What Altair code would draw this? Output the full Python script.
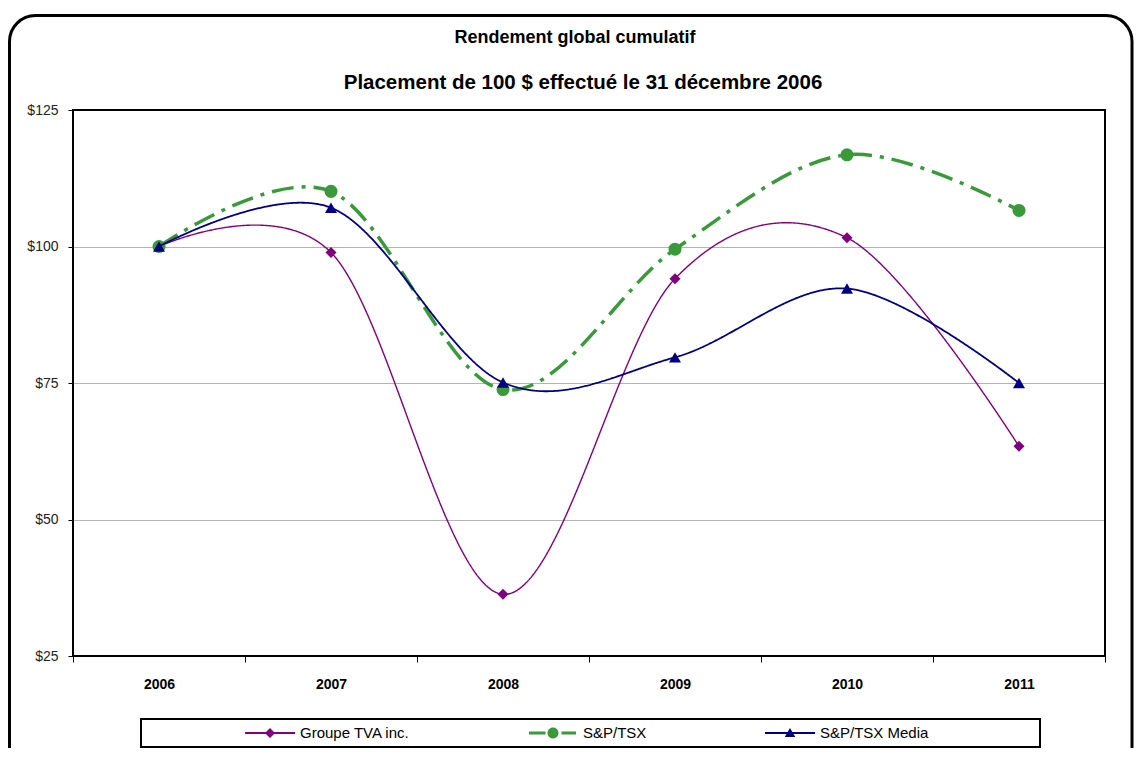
import altair as alt
import pandas as pd

years = ["2006", "2007", "2008", "2009", "2010", "2011"]
series_names = ["Groupe TVA inc.", "S&P/TSX", "S&P/TSX Media"]
tva = [100, 98.9, 36.3, 94.1, 101.6, 63.4]
tsx = [100, 110.1, 73.8, 99.5, 116.8, 106.6]
media = [100, 107.1, 75.1, 79.7, 92.3, 75.0]
y_ticks = [25, 50, 75, 100, 125]
title_text = "Rendement global cumulatif"
subtitle_text = "Placement de 100 $ effectué le 31 décembre 2006"

colors = ["#800080", "#3a9a3a", "#000080"]
values = [tva, tsx, media]

FONT = "Liberation Sans"
W, H = 1032, 546

frames = []
for name, vals in zip(series_names, values):
    frames.append(pd.DataFrame({"year": years, "value": vals, "series": name, "hidden": 0}))
df_all = pd.concat(frames, ignore_index=True)
one = pd.DataFrame({"a": [0]})

xenc = alt.X(
    "year:N",
    sort=years,
    bandPosition=0.5,
    scale=alt.Scale(type="band", domain=years, paddingInner=0, paddingOuter=0),
    axis=alt.Axis(
        tickBand="extent", grid=False, domain=False, tickColor="black", tickSize=6,
        labelFont=FONT, labelFontSize=14, labelFontWeight="bold", labelColor="black",
        labelPadding=15, labelAngle=0,
    ),
    title=None,
)
yscale = alt.Scale(domain=[25, 125], nice=False, zero=False)
yenc = alt.Y(
    "value:Q",
    scale=yscale,
    axis=alt.Axis(
        values=y_ticks, format="$d", grid=True, gridColor="#b4b4b4", gridWidth=1,
        domain=False, tickColor="black", tickSize=5, labelPadding=10,
        labelFont=FONT, labelFontSize=14, labelColor="#222222",
    ),
    title=None,
)

outer = alt.Chart(one).mark_rect(
    fill="transparent", stroke="black", strokeWidth=3, cornerRadius=26, clip=False
).encode(x=alt.value(-63.5), x2=alt.value(1059), y=alt.value(-94.5), y2=alt.value(700))

legend_box = alt.Chart(one).mark_rect(
    fill="white", stroke="black", strokeWidth=2, clip=False
).encode(x=alt.value(68), x2=alt.value(967), y=alt.value(609), y2=alt.value(637))

title_mark = alt.Chart(one).mark_text(
    text=title_text, font=FONT, fontSize=18, fontWeight="bold", color="black",
    align="center", baseline="middle", clip=False,
).encode(x=alt.value(502), y=alt.value(-72))

subtitle_mark = alt.Chart(one).mark_text(
    text=subtitle_text, font=FONT, fontSize=20.5, fontWeight="bold", color="black",
    align="center", baseline="middle", clip=False,
).encode(x=alt.value(510), y=alt.value(-27))

styles = [
    dict(width=1.4, dash=[1, 0], shape="diamond", size=121),
    dict(width=3.5, dash=[22, 8, 4, 8], shape="circle", size=170),
    dict(width=1.8, dash=[1, 0], shape="triangle-up", size=144),
]

layers = [outer, legend_box, title_mark, subtitle_mark]
for name, col, st in zip(series_names, colors, styles):
    d = df_all[df_all["series"] == name]
    line = alt.Chart(d).mark_line(
        interpolate="cardinal", color=col, strokeWidth=st["width"], strokeDash=st["dash"]
    ).encode(x=xenc, y=yenc)
    pts = alt.Chart(d).mark_point(
        filled=True, shape=st["shape"], size=st["size"], color=col, opacity=1
    ).encode(x=xenc, y=yenc)
    layers += [line, pts]

legend_paths = [
    "M-1,-0.04L1,-0.04L1,0.04L-1,0.04Z M0,-0.2L0.2,0L0,0.2L-0.2,0Z",
    "M-0.96,-0.06L-0.3,-0.06L-0.3,0.06L-0.96,0.06Z M0.34,-0.06L0.92,-0.06L0.92,0.06L0.34,0.06Z "
    "M-0.22,0A0.22,0.22 0 1,1 0.22,0A0.22,0.22 0 1,1 -0.22,0Z",
    "M-1,-0.04L1,-0.04L1,0.04L-1,0.04Z M0,-0.2L0.21,0.16L-0.21,0.16Z",
]

leg = alt.Legend(
    orient="none", legendX=172, legendY=598, direction="horizontal", title=None,
    symbolSize=2500, symbolStrokeWidth=0, labelFont=FONT, labelFontSize=15,
    labelColor="black", labelOffset=5, columnPadding=118, padding=0,
)

legend_layer = alt.Chart(df_all).mark_point(filled=True, clip=True, opacity=1).encode(
    x=xenc,
    y=alt.Y("hidden:Q", scale=yscale, title=None),
    color=alt.Color("series:N", sort=series_names,
                    scale=alt.Scale(domain=series_names, range=colors), legend=leg),
    shape=alt.Shape("series:N", sort=series_names,
                    scale=alt.Scale(domain=series_names, range=legend_paths), legend=leg),
)

border = alt.Chart(one).mark_rect(
    fill="transparent", stroke="black", strokeWidth=2, clip=False
).encode(x=alt.value(0), x2=alt.value(W), y=alt.value(0), y2=alt.value(H))

layers += [legend_layer, border]

chart = alt.layer(*layers).properties(
    width=W,
    height=H,
    autosize=alt.AutoSizeParams(type="none"),
    padding={"left": 65, "top": 102, "right": 29, "bottom": 92},
).configure_view(stroke=None)

chart.save("out.html", embed_options={"renderer": "svg", "actions": False})
